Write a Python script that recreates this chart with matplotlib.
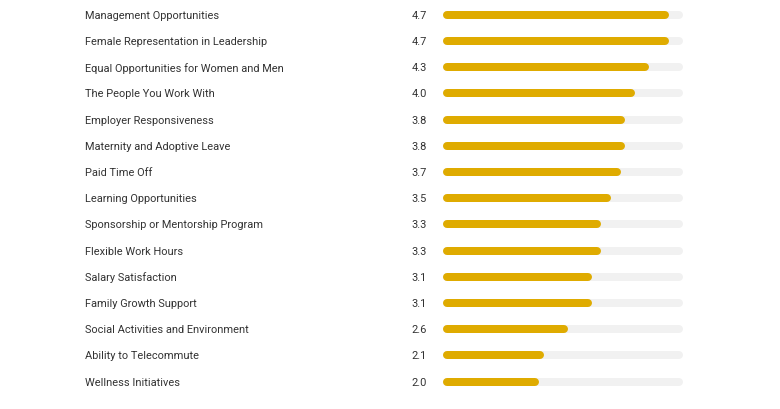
import matplotlib
matplotlib.use('Agg')
import matplotlib.pyplot as plt
import matplotlib.transforms as mtransforms

#%% Data
categories = ['Management Opportunities', 'Female Representation in Leadership',
              'Equal Opportunities for Women and Men', 'The People You Work With',
              'Employer Responsiveness', 'Maternity and Adoptive Leave', 'Paid Time Off',
              'Learning Opportunities', 'Sponsorship or Mentorship Program',
              'Flexible Work Hours', 'Salary Satisfaction', 'Family Growth Support',
              'Social Activities and Environment', 'Ability to Telecommute',
              'Wellness Initiatives']
scores = [4.7, 4.7, 4.3, 4.0, 3.8, 3.8, 3.7, 3.5, 3.3, 3.3, 3.1, 3.1, 2.6, 2.1, 2.0]
max_score = 5

#%% Plot
plt.rcParams['font.family'] = ['Roboto', 'DejaVu Sans']
fig = plt.figure(figsize=(7.8, 4.1), dpi=100)
ax = fig.add_axes([443/780, 0, 240/780, 1])
ax.set_xlim(0, max_score)
row_px, top_px = 26.2, 15.8
ax.set_ylim((410 - top_px) / row_px, -top_px / row_px)
ax.axis('off')

bar_px = 8
lw = bar_px * 72 / 100
r = (bar_px / 2) / 240 * max_score  # half bar height in data units (round caps)
gold = '#dfab00'
track = '#f1f1f1'
trans = mtransforms.blended_transform_factory(fig.transFigure, ax.transData)

for i, (cat, val) in enumerate(zip(categories, scores)):
    ax.plot([r, max_score - r], [i, i], color=track, lw=lw, solid_capstyle='round')
    ax.plot([r, val - r], [i, i], color=gold, lw=lw, solid_capstyle='round')
    ax.text(85/780, i, cat, transform=trans, ha='left', va='center',
            fontsize=7.9, color='#333333')
    ax.text(427/780, i, '%.1f' % val, transform=trans, ha='right', va='center',
            fontsize=7.9, color='#333333')

fig.savefig('out.png', dpi=100)
